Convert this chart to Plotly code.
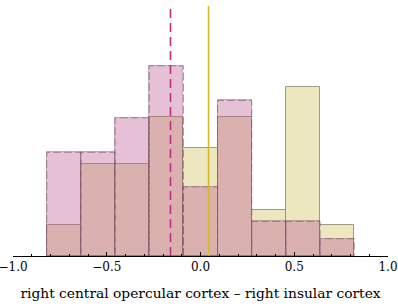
import numpy as np
import plotly.graph_objects as go

bin_edges = [-0.82, -0.6378, -0.4556, -0.2733, -0.0911, 0.0911, 0.2733, 0.4556, 0.6378, 0.82]
counts_yellow = [2, 6, 6, 9, 7, 9, 3, 11, 2]
counts_pink = [6, 6, 8, 11, 4, 9, 2, 2, 1]
median_pink = -0.16
median_yellow = 0.043
x_label = "right central opercular cortex – right insular cortex"
tick_vals = [-1.0, -0.5, 0.0, 0.5, 1.0]
tick_text = ["−1.0", "−0.5", "0.0", "0.5", "1.0"]

edges = np.array(bin_edges)
widths = np.diff(edges)
centers = (edges[:-1] + edges[1:]) / 2

def density(c):
    c = np.array(c, dtype=float)
    return c / (c.sum() * widths)

dy = density(counts_yellow)
dp = density(counts_pink)

def outline(d):
    xs, ys = [], []
    for i in range(len(d)):
        xs += [edges[i], edges[i], edges[i + 1], edges[i + 1], None]
        ys += [0, d[i], d[i], 0, None]
    return xs, ys

fig = go.Figure()
fig.add_trace(go.Bar(x=centers, y=dy, width=widths,
                     marker=dict(color="rgb(237,231,192)",
                                 line=dict(color="rgba(150,145,120,0.9)", width=1)),
                     showlegend=False, hoverinfo="skip"))
fig.add_trace(go.Bar(x=centers, y=dp, width=widths,
                     marker=dict(color="rgba(190,90,150,0.38)",
                                 line=dict(color="rgba(120,80,100,0.35)", width=1)),
                     showlegend=False, hoverinfo="skip"))
ox, oy = outline(dp)
fig.add_trace(go.Scatter(x=ox, y=oy, mode="lines",
                         line=dict(color="rgba(130,95,115,0.7)", width=1, dash="8px,3px"),
                         hoverinfo="skip", showlegend=False))

fig.add_shape(type="line", x0=median_pink, x1=median_pink, y0=0, y1=1, yref="paper",
              line=dict(color="rgb(200,40,130)", width=1.6, dash="9px,5px"))
fig.add_shape(type="line", x0=median_yellow, x1=median_yellow, y0=0, y1=1, yref="paper",
              line=dict(color="rgb(215,185,40)", width=1.6))

fig.update_layout(
    width=398, height=307,
    margin=dict(l=13, r=10, t=6, b=51, autoexpand=False),
    barmode="overlay", bargap=0,
    plot_bgcolor="white", paper_bgcolor="white",
    font=dict(family="DejaVu Serif", size=12, color="black"),
    xaxis=dict(range=[-1, 1], tickvals=tick_vals, ticktext=tick_text,
               ticks="inside", ticklen=4, tickcolor="black", showline=True,
               linecolor="black", linewidth=1, showgrid=False, zeroline=False,
               automargin=False, ticklabeloverflow="allow",
               tickfont=dict(size=12),
               minor=dict(dtick=0.1, ticks="inside", ticklen=2, tickcolor="black"),
               title=dict(text=x_label, font=dict(size=13.8), standoff=14)),
    yaxis=dict(range=[0, 1.62], visible=False, showgrid=False, zeroline=False,
               automargin=False),
)
fig.write_html("out.html", config={"displayModeBar": False},
               post_script="document.body.style.margin='0';")
